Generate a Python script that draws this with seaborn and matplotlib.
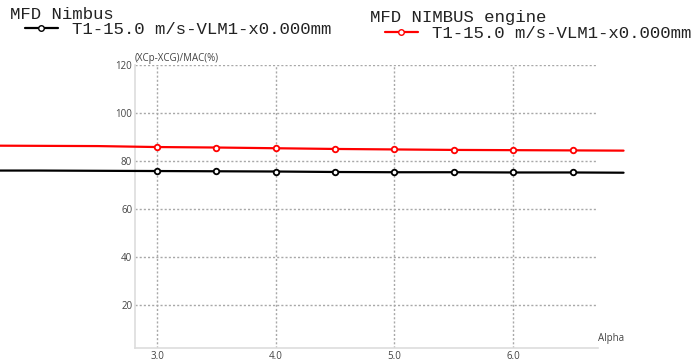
import pandas as pd
import matplotlib.pyplot as plt
import seaborn as sns
from matplotlib.lines import Line2D

# Values
alpha = [1.5, 2.0, 2.5, 3.0, 3.5, 4.0, 4.5, 5.0, 5.5, 6.0, 6.5, 6.93]
nimbus = [76.0, 76.0, 75.9, 75.8, 75.7, 75.6, 75.4, 75.3, 75.3, 75.2, 75.2, 75.1]
nimbus_engine = [86.4, 86.3, 86.2, 85.8, 85.6, 85.3, 85.0, 84.8, 84.6, 84.5, 84.4, 84.3]

series_names = ["MFD Nimbus", "MFD NIMBUS engine"]
run_label = "T1-15.0 m/s-VLM1-x0.000mm"
colors = ["black", "red"]

x_ticks = [3.0, 4.0, 5.0, 6.0]
y_ticks = [20, 40, 60, 80, 100, 120]

df = pd.DataFrame({
    "alpha": alpha * 2,
    "value": nimbus + nimbus_engine,
    "plane": [series_names[0]] * len(alpha) + [series_names[1]] * len(alpha),
})

sns.set_style("white")
plt.rcParams['font.family'] = ['Open Sans', 'DejaVu Sans']

fig = plt.figure(figsize=(6.97, 3.63), dpi=100)
ax = fig.add_axes([0.1937, 0.041, 0.6643, 0.780])

for name, col in zip(series_names, colors):
    sub = df[df["plane"] == name]
    sns.lineplot(data=sub, x="alpha", y="value", color=col, linewidth=1.6,
                 sort=False, ax=ax, clip_on=False, zorder=3)
    sns.scatterplot(data=sub, x="alpha", y="value", color="white", edgecolor=col,
                    linewidth=1.3, s=16, marker="o", ax=ax, zorder=4)

ax.set_xlim(2.815, 6.715)
ax.set_ylim(2.0, 120)
ax.set_xticks(x_ticks)
ax.set_xticklabels([f"{t:.1f}" for t in x_ticks])
ax.set_yticks(y_ticks)
ax.set_xlabel("")
ax.set_ylabel("")
ax.grid(True, linestyle=(0, (1.5, 1.5)), color="#a8a8a8", linewidth=1.0)
ax.set_axisbelow(True)
ax.tick_params(axis="both", length=0, labelsize=7, labelcolor="#444444", pad=2)
for s in ["top", "right"]:
    ax.spines[s].set_visible(False)
for s in ["left", "bottom"]:
    ax.spines[s].set_color("#dddddd")
    ax.spines[s].set_linewidth(1.2)

ax.text(0.0, 1.005, "(XCp-XCG)/MAC(%)", transform=ax.transAxes, ha="left",
        va="bottom", fontsize=7, color="#444444")
ax.text(1.0, 0.035, "Alpha", transform=ax.transAxes, ha="left",
        va="center", fontsize=7, color="#444444")

# Legends at the top, one per plane: title text plus one entry
mono = {"family": "Liberation Mono", "size": 12.5}
W, H = 697, 363
title_pos = [(10, 19), (370, 22)]
entry_pos = [(25, 29), (385, 33)]
for name, col, tp, ep in zip(series_names, colors, title_pos, entry_pos):
    fig.text(tp[0] / W, 1 - tp[1] / H, name, ha="left", va="baseline",
             fontfamily="Liberation Mono", fontsize=12.5, color="#222222")
    h = Line2D([], [], color=col, linewidth=1.6, marker="o", markersize=4,
               markerfacecolor="white", markeredgecolor=col)
    fig.legend(handles=[h], labels=[run_label], loc="center left",
               bbox_to_anchor=(ep[0] / W, 1 - ep[1] / H), frameon=False,
               prop=mono, handlelength=1.9, handletextpad=0.8,
               borderpad=0.0, borderaxespad=0.0, labelcolor="#222222")

plt.savefig("out.png", dpi=100)
